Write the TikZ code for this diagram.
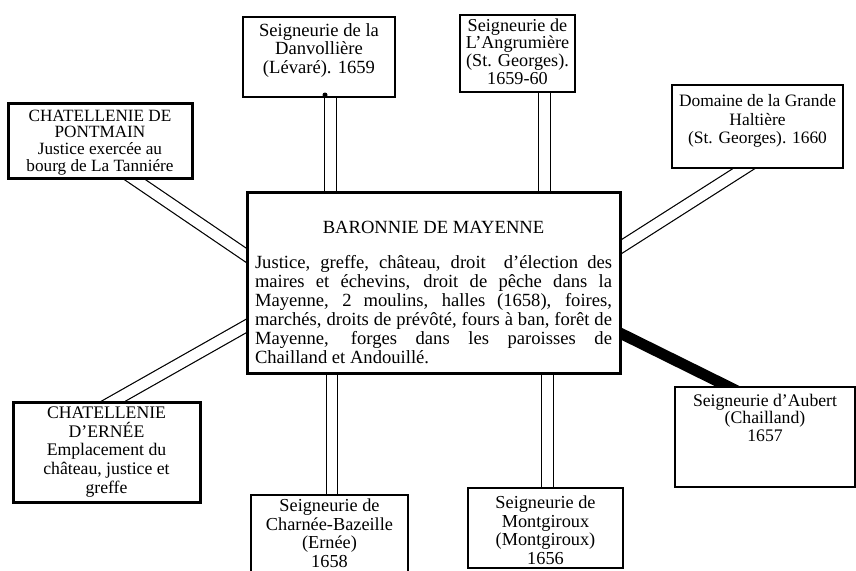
\documentclass[tikz,border=0pt]{standalone}
\usepackage{fontspec}
\setmainfont{Liberation Serif}
\usetikzlibrary{calc,backgrounds}
\tikzset{
  box/.style={draw, line width=1.5pt, fill=white, inner sep=0pt, outer sep=0pt, anchor=north west, font=\fontsize{18.6}{18.5}\selectfont},
  heavybox/.style={box, line width=3pt},
  thinbox/.style={box, line width=1.2pt},
  link/.style={line width=1.2pt, double=white, double distance=10.5pt},
  heavylink/.style={line width=11pt, line cap=butt}
}
\newcommand{\boxtext}[4]{\parbox[c][#2][t]{#1}{\centering\rule{0pt}{#3}#4}}
\begin{document}
\begin{tikzpicture}[x=1pt,y=-1pt]
\useasboundingbox (0,0) rectangle (856,570);

\node[box] (dan) at (243,17) {\boxtext{152pt}{80pt}{19pt}{Seigneurie de la\\Danvollière\\(Lévaré). 1659}};
\node[box] (ang) at (460,15) {\boxtext{115pt}{77pt}{16pt}{\fontsize{18.2}{17.7}\selectfont Seigneurie de\\L'Angrumière\\(St. Georges).\\1659-60}};
\node[heavybox] (pont) at (8,103) {\boxtext{184pt}{75pt}{18pt}{\fontsize{17.2}{16.7}\selectfont CHATELLENIE DE\\PONTMAIN\\Justice exercée au\\bourg de La Tanniére}};
\node[box] (dom) at (672,85) {\boxtext{171pt}{83pt}{21.7pt}{\fontsize{17.4}{18.3}\selectfont Domaine de la Grande\\Haltière\\(St. Georges). 1660}};
\node[heavybox] (cen) at (247,192) {\parbox[c][181pt][t]{373pt}{\centering\fontsize{18.6}{19.1}\selectfont\rule{0pt}{41pt}BARONNIE DE MAYENNE\\[16.2pt]%
\makebox[357pt][s]{Justice, greffe, château, droit\ \ d'élection des}\\
\makebox[357pt][s]{maires et échevins, droit de pêche dans la}\\
\makebox[357pt][s]{Mayenne, 2 moulins, halles (1658), foires,}\\
\makebox[357pt][s]{marchés, droits de prévôté, fours à ban, forêt de}\\
\makebox[357pt][s]{Mayenne, forges dans les paroisses de}\\
\makebox[357pt][l]{Chailland et Andouillé.}}};
\node[heavybox] (ern) at (13,402) {\boxtext{187pt}{100pt}{16.3pt}{\fontsize{17.7}{18.75}\selectfont CHATELLENIE\\D'ERNÉE\\Emplacement du\\château, justice et\\greffe}};
\node[thinbox] (aub) at (675,387) {\boxtext{180pt}{100pt}{19pt}{\fontsize{17.7}{17.8}\selectfont Seigneurie d'Aubert\\(Chailland)\\1657}};
\node[box] (cha) at (251,495) {\boxtext{157pt}{80pt}{16.7pt}{\fontsize{18.3}{18.6}\selectfont Seigneurie de\\Charnée-Bazeille\\(Ernée)\\1658}};
\node[box] (mon) at (468,488) {\boxtext{155pt}{80pt}{20.3pt}{\fontsize{18.3}{18.8}\selectfont Seigneurie de\\Montgiroux\\(Montgiroux)\\1656}};

\fill ($(dan.south west)+(82,-2)$) circle (2.5pt);

\begin{scope}[on background layer]
\draw[link] ($(dan.south west)+(87.5,0)$) -- ($(cen.north west)+(83.5,0)$);
\draw[link] ($(ang.north west)+(84.5,77)$) -- ($(cen.north west)+(297.5,0)$);
\draw[link] ($(pont.north west)+(115.1,68.6)$) -- ($(cen.north west)+(10.4,70.9)$);
\draw[link] ($(dom.north west)+(87.1,73.9)$) -- ($(cen.north west)+(360.4,63.6)$);
\draw[link] ($(ern.north west)+(89.4,5.4)$) -- ($(cen.north west)+(13.1,126.1)$);
\draw[link] ($(cha.north west)+(81,0)$) -- ($(cen.north west)+(85,181)$);
\draw[link] ($(mon.north west)+(79.5,0)$) -- ($(cen.north west)+(300.5,181)$);
\draw[heavylink] ($(cen.north west)+(364,136.6)$) -- ($(aub.north west)+(63,4.4)$);
\end{scope}
\end{tikzpicture}
\end{document}
